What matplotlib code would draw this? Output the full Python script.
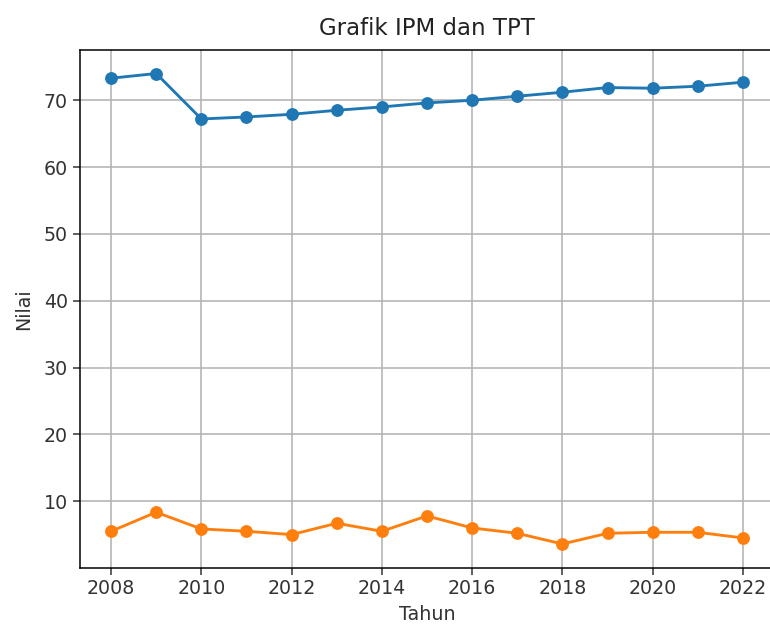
import matplotlib
matplotlib.use("Agg")
import matplotlib.pyplot as plt

years = list(range(2008, 2023))
ipm = [73.3, 74.0, 67.2, 67.5, 67.9, 68.5, 69.0, 69.6, 70.0, 70.6, 71.2, 71.9, 71.8, 72.1, 72.7]
tpt = [5.5, 8.35, 5.85, 5.5, 5.0, 6.7, 5.5, 7.8, 6.0, 5.2, 3.6, 5.2, 5.35, 5.35, 4.5]
x_ticks = list(range(2008, 2023, 2))

s = 1.37
fig = plt.figure(figsize=(7.7, 6.24), dpi=100)
ax = fig.add_axes([79.5 / 770, (624 - 567.5) / 624, 695 / 770, 517.5 / 624])
ax.plot(years, ipm, marker='o', color='#1f77b4', lw=1.5 * s, ms=6 * s, label='IPM')
ax.plot(years, tpt, marker='o', color='#ff7f0e', lw=1.5 * s, ms=6 * s, label='TPT')
ax.set_xticks(x_ticks)
ax.grid(True, color='#b0b0b0', lw=0.8 * s)
ax.tick_params(labelsize=10 * s, width=0.8 * s, length=3.5 * s, colors='#333333')
for sp in ax.spines.values():
    sp.set_linewidth(0.8 * s)
ax.set_title('Grafik IPM dan TPT', fontsize=12 * s, pad=8 * s, color='#222222')
ax.set_xlabel('Tahun', fontsize=10 * s, labelpad=5, color='#333333')
ax.set_ylabel('Nilai', fontsize=10 * s, labelpad=7.5, color='#333333')
fig.savefig('out.png', dpi=100)
